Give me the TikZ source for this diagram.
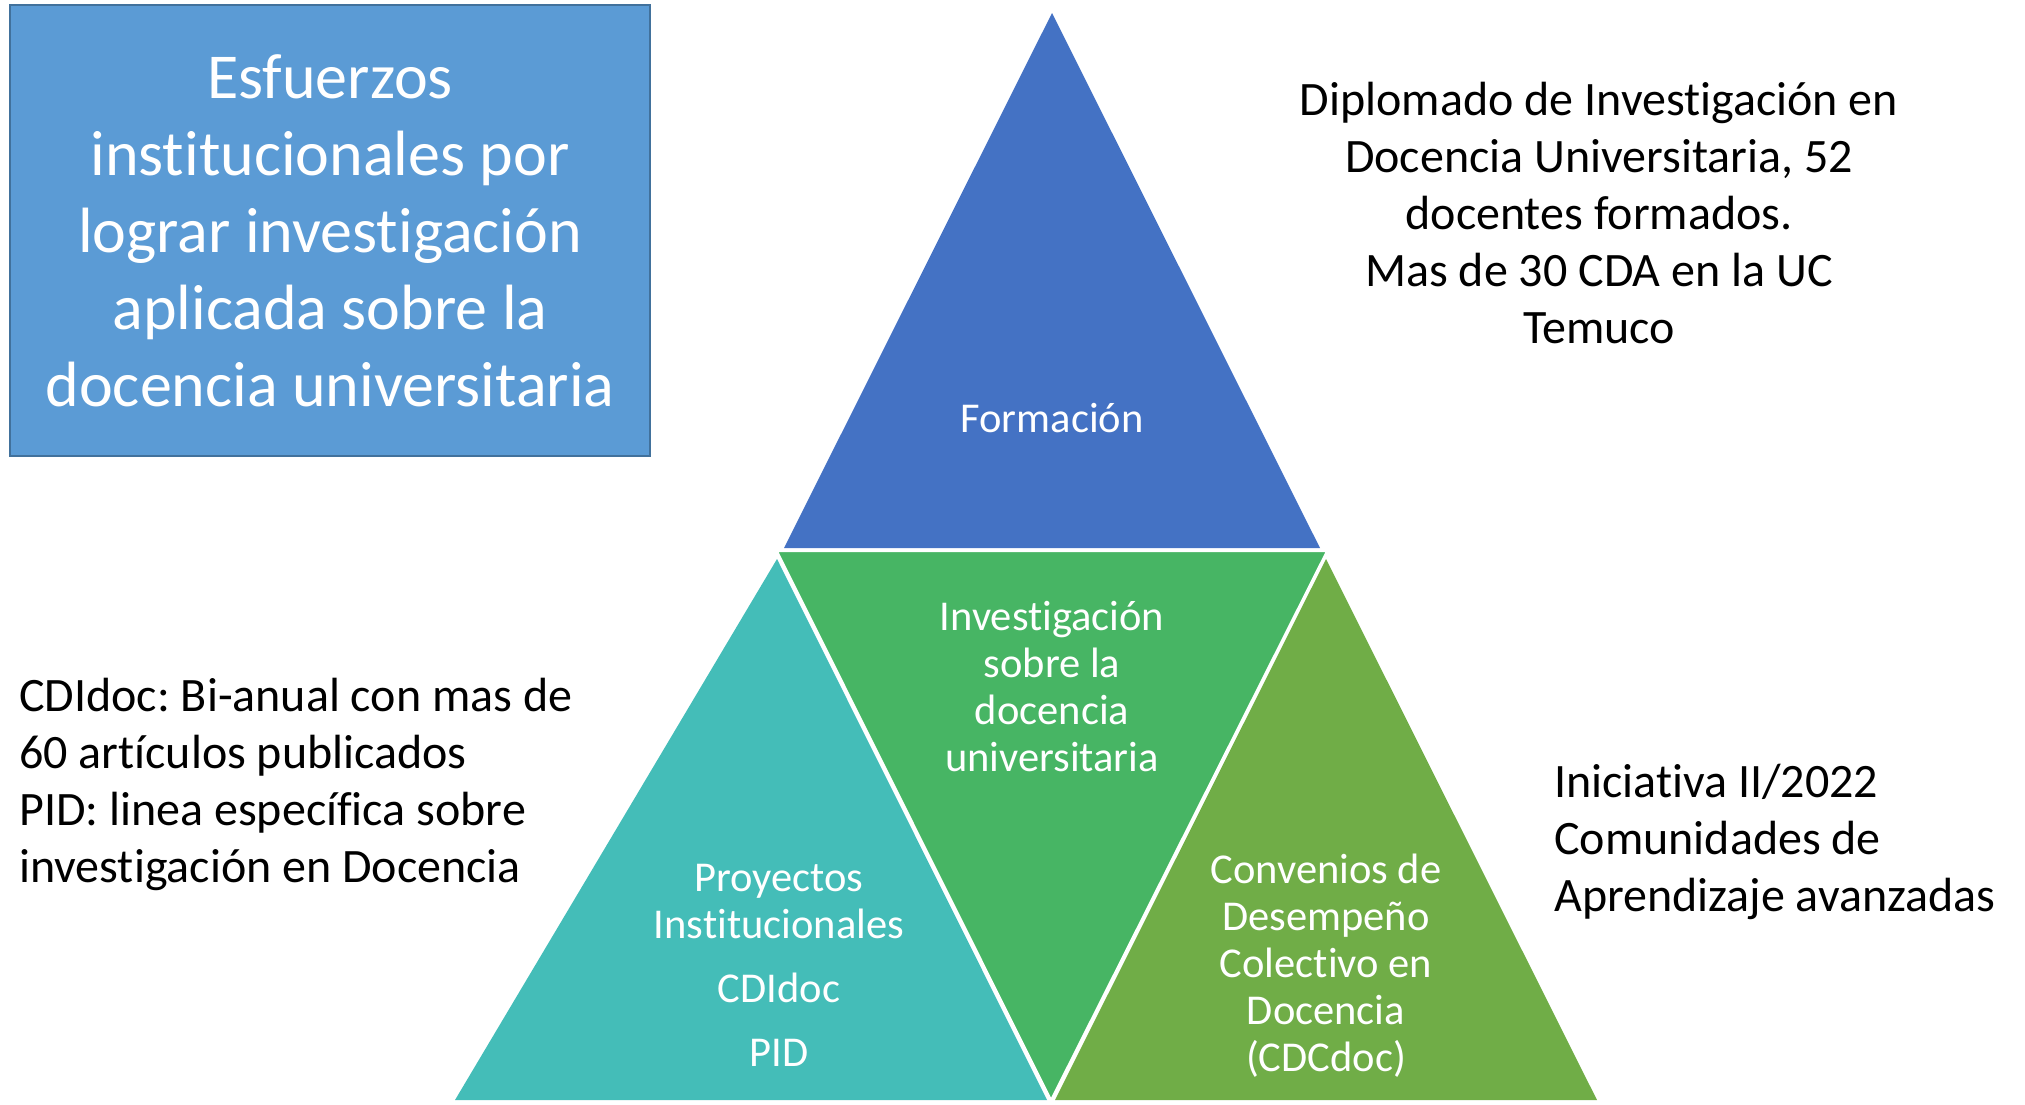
\documentclass[tikz,border=0pt]{standalone}
\usepackage{fontspec}
\setmainfont{Carlito}[Ligatures=NoCommon]
\frenchspacing
\usetikzlibrary{positioning}
\definecolor{boxblue}{HTML}{5B9BD5}
\definecolor{boxedge}{HTML}{41719C}
\definecolor{topblue}{HTML}{4472C4}
\definecolor{midgreen}{HTML}{47B564}
\definecolor{tealtri}{HTML}{44BDB8}
\definecolor{olivetri}{HTML}{70AD47}

\begin{document}
\begin{tikzpicture}[x=1pt, y=-1pt,
    goalbox/.style = {draw=boxedge, fill=boxblue, line width=2pt, text=white, align=center,
                      minimum width=640pt, minimum height=451pt, font=\fontsize{64}{77}\selectfont},
    lbl/.style = {text=white, align=center, font=\fontsize{42.5}{47}\selectfont},
    note/.style = {align=center, inner sep=0pt, font=\fontsize{48}{57}\selectfont}]
    \useasboundingbox (0,0) rectangle (2025,1104);

    % corners of the triangles
    \coordinate (Ftop) at (1052,13);
    \coordinate (Fl) at (784,548);
    \coordinate (Fr) at (1320,548);
    \coordinate (Ml) at (777,551);
    \coordinate (Mr) at (1327,551);
    \coordinate (Mb) at (1051,1100);
    \coordinate (Pt) at (777,559);
    \coordinate (Pl) at (455,1100);
    \coordinate (Pr) at (1047,1100);
    \coordinate (Ct) at (1326,559);
    \coordinate (Cl) at (1055,1100);
    \coordinate (Cr) at (1597,1100);

    \fill[topblue] (Ftop) -- (Fl) -- (Fr) -- cycle;
    \fill[tealtri] (Pt) -- (Pl) -- (Pr) -- cycle;
    \fill[olivetri] (Ct) -- (Cl) -- (Cr) -- cycle;
    \filldraw[midgreen, draw=white, line width=2pt, line join=miter] (Ml) -- (Mr) -- (Mb) -- cycle;

    \node[goalbox] (goal) at (330,230.5) {Esfuerzos\\institucionales por\\lograr investigación\\aplicada sobre la\\docencia universitaria};

    \node[lbl] (form) at (1052,418) {Formación};
    \node[lbl] (invest) at (1052,687) {Investigación\\sobre la\\docencia\\universitaria};
    \node[lbl] (proy) at (779,965) {Proyectos\\Institucionales\\[17pt]CDIdoc\\[17pt]PID};
    \node[lbl] (conv) at (1326,966) {Convenios de\\Desempeño\\Colectivo en\\Docencia\\(CDCdoc)};

    \node[note] (dipl) at (1599,213) {Diplomado de Investigación en\\Docencia Universitaria, 52\\docentes formados.\\Mas de 30 CDA en la UC\\Temuco};
    \node[note, anchor=west, align=left] (cdi) at (19,784) {CDIdoc: Bi-anual con mas de\\60 artículos publicados\\PID: linea específica sobre\\investigación en Docencia};
    \node[note, anchor=west, align=left] (inic) at (1554,842) {Iniciativa II/2022\\Comunidades de\\Aprendizaje avanzadas};
\end{tikzpicture}
\end{document}
